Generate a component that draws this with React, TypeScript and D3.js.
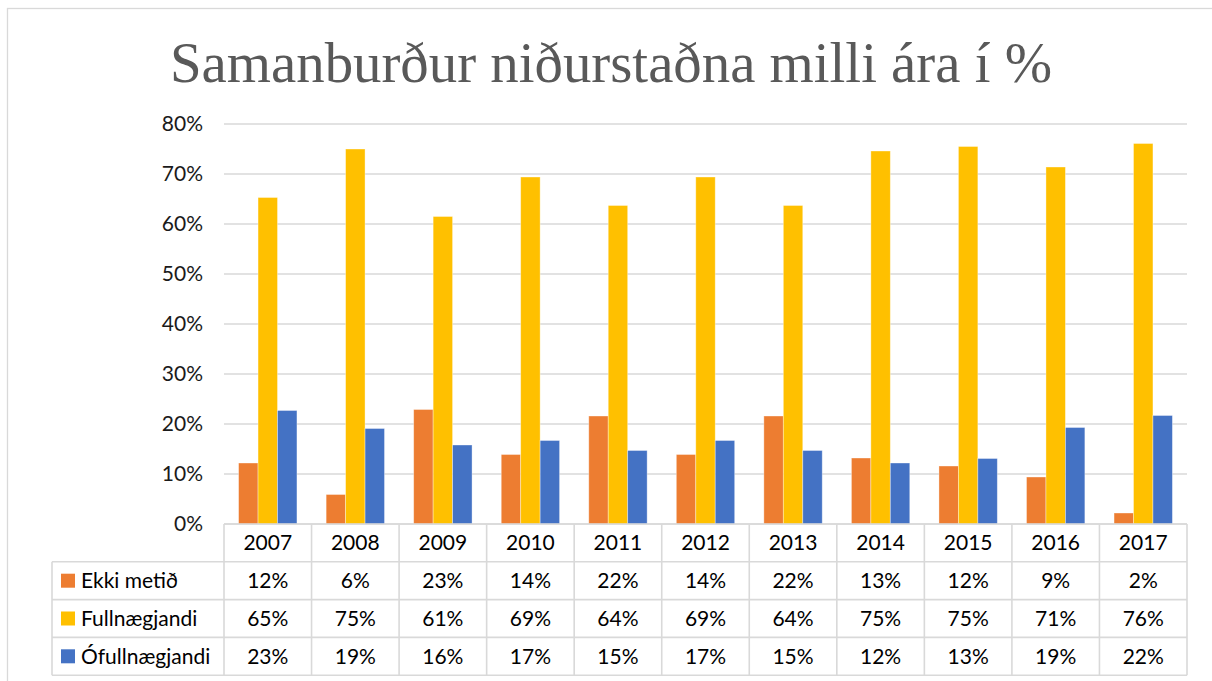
import React from 'react';
import * as d3 from 'd3';

const years = ['2007', '2008', '2009', '2010', '2011', '2012', '2013', '2014', '2015', '2016', '2017'];
const seriesNames = ['Ekki metið', 'Fullnægjandi', 'Ófullnægjandi'];
const seriesColors = ['#ED7D31', '#FFC000', '#4472C4'];

// bar heights (percent)
const ekkiMetid = [12.2, 5.9, 22.9, 13.9, 21.6, 13.9, 21.6, 13.2, 11.6, 9.4, 2.2];
const fullnaegjandi = [65.3, 75.0, 61.5, 69.4, 63.7, 69.4, 63.7, 74.6, 75.5, 71.4, 76.1];
const ofullnaegjandi = [22.7, 19.1, 15.8, 16.7, 14.7, 16.7, 14.7, 12.2, 13.1, 19.3, 21.7];

// rounded labels shown in the data table
const ekkiLabels = ['12%', '6%', '23%', '14%', '22%', '14%', '22%', '13%', '12%', '9%', '2%'];
const fullLabels = ['65%', '75%', '61%', '69%', '64%', '69%', '64%', '75%', '75%', '71%', '76%'];
const ofullLabels = ['23%', '19%', '16%', '17%', '15%', '17%', '15%', '12%', '13%', '19%', '22%'];

const yTicks = [0, 10, 20, 30, 40, 50, 60, 70, 80];

const title = 'Samanburður niðurstaðna milli ára í %';

export default function App() {
  const W = 1212;
  const H = 681;
  const plot = { left: 224, right: 1187, top: 124, bottom: 524 };
  const rowH = 37.8;
  const tableLeft = 52;
  const font = 'Lato, "Noto Sans", sans-serif';
  const fs = 21;

  const values = [ekkiMetid, fullnaegjandi, ofullnaegjandi];
  const labels = [ekkiLabels, fullLabels, ofullLabels];

  const x0 = d3.scaleBand<string>().domain(years).range([plot.left, plot.right]).padding(0);
  const step = x0.bandwidth();
  // Excel gap width 150% -> group occupies step / 1.5
  const groupW = step / 1.5;
  const x1 = d3.scaleBand<number>().domain([0, 1, 2]).range([0, groupW]).padding(0);
  const y = d3.scaleLinear().domain([0, 80]).range([plot.bottom, plot.top]);

  const rowTop = (r: number) => plot.bottom + r * rowH;
  const gridColor = '#D9D9D9';

  return (
    <svg
      width={W}
      height={H}
      viewBox={`0 0 ${W} ${H}`}
      style={{ position: 'absolute', left: 0, top: 0, background: '#fff' }}
    >
      <rect x={0} y={0} width={W} height={H} fill="#fff" />
      {/* chart border */}
      <rect x={7.5} y={8.5} width={W + 20} height={H + 20} fill="none" stroke={gridColor} strokeWidth={1.3} />

      <text
        x={611}
        y={82}
        textAnchor="middle"
        fontFamily='"Liberation Serif", serif'
        fontSize={57}
        fill="#595959"
        textLength={882}
        lengthAdjust="spacingAndGlyphs"
      >
        {title}
      </text>

      {/* gridlines */}
      {yTicks.map(t => (
        <line key={t} x1={plot.left} x2={plot.right} y1={y(t)} y2={y(t)} stroke={gridColor} strokeWidth={1.5} />
      ))}

      {/* y tick labels */}
      {yTicks.map(t => (
        <text
          key={`l${t}`}
          x={203}
          y={y(t)}
          dy="0.35em"
          textAnchor="end"
          fontFamily={font}
          fontSize={fs}
          fill="#1a1a1a"
        >
          {`${t}%`}
        </text>
      ))}

      {/* bars */}
      {years.map((yr, i) => (
        <g key={yr} transform={`translate(${(x0(yr) ?? 0) + (step - groupW) / 2},0)`}>
          {values.map((s, k) => (
            <rect
              key={k}
              x={x1(k)}
              y={y(s[i])}
              width={x1.bandwidth()}
              height={y(0) - y(s[i])}
              fill={seriesColors[k]}
              stroke="#fff"
              strokeOpacity={0.45}
              strokeWidth={0.8}
            />
          ))}
        </g>
      ))}

      {/* data table */}
      <g stroke={gridColor} strokeWidth={1.6}>
        {[0, 1, 2, 3, 4].map(r => (
          <line
            key={`h${r}`}
            x1={r === 0 ? plot.left : tableLeft}
            x2={plot.right}
            y1={rowTop(r)}
            y2={rowTop(r)}
          />
        ))}
        <line x1={tableLeft} x2={tableLeft} y1={rowTop(1)} y2={rowTop(4)} />
        {years.map(yr => (
          <line key={`v${yr}`} x1={x0(yr)} x2={x0(yr)} y1={rowTop(0)} y2={rowTop(4)} />
        ))}
        <line x1={plot.right} x2={plot.right} y1={rowTop(0)} y2={rowTop(4)} />
      </g>

      {years.map(yr => (
        <text
          key={`y${yr}`}
          x={(x0(yr) ?? 0) + step / 2}
          y={rowTop(0) + rowH / 2}
          dy="0.35em"
          textAnchor="middle"
          fontFamily={font}
          fontSize={fs}
          fill="#000"
        >
          {yr}
        </text>
      ))}

      {seriesNames.map((name, k) => (
        <g key={name}>
          <rect x={61} y={rowTop(k + 1) + rowH / 2 - 7} width={14} height={14} fill={seriesColors[k]} />
          <text
            x={81}
            y={rowTop(k + 1) + rowH / 2}
            dy="0.35em"
            fontFamily={font}
            fontSize={fs}
            fill="#000"
          >
            {name}
          </text>
          {years.map((yr, i) => (
            <text
              key={yr}
              x={(x0(yr) ?? 0) + step / 2}
              y={rowTop(k + 1) + rowH / 2}
              dy="0.35em"
              textAnchor="middle"
              fontFamily={font}
              fontSize={fs}
              fill="#000"
            >
              {labels[k][i]}
            </text>
          ))}
        </g>
      ))}
    </svg>
  );
}
